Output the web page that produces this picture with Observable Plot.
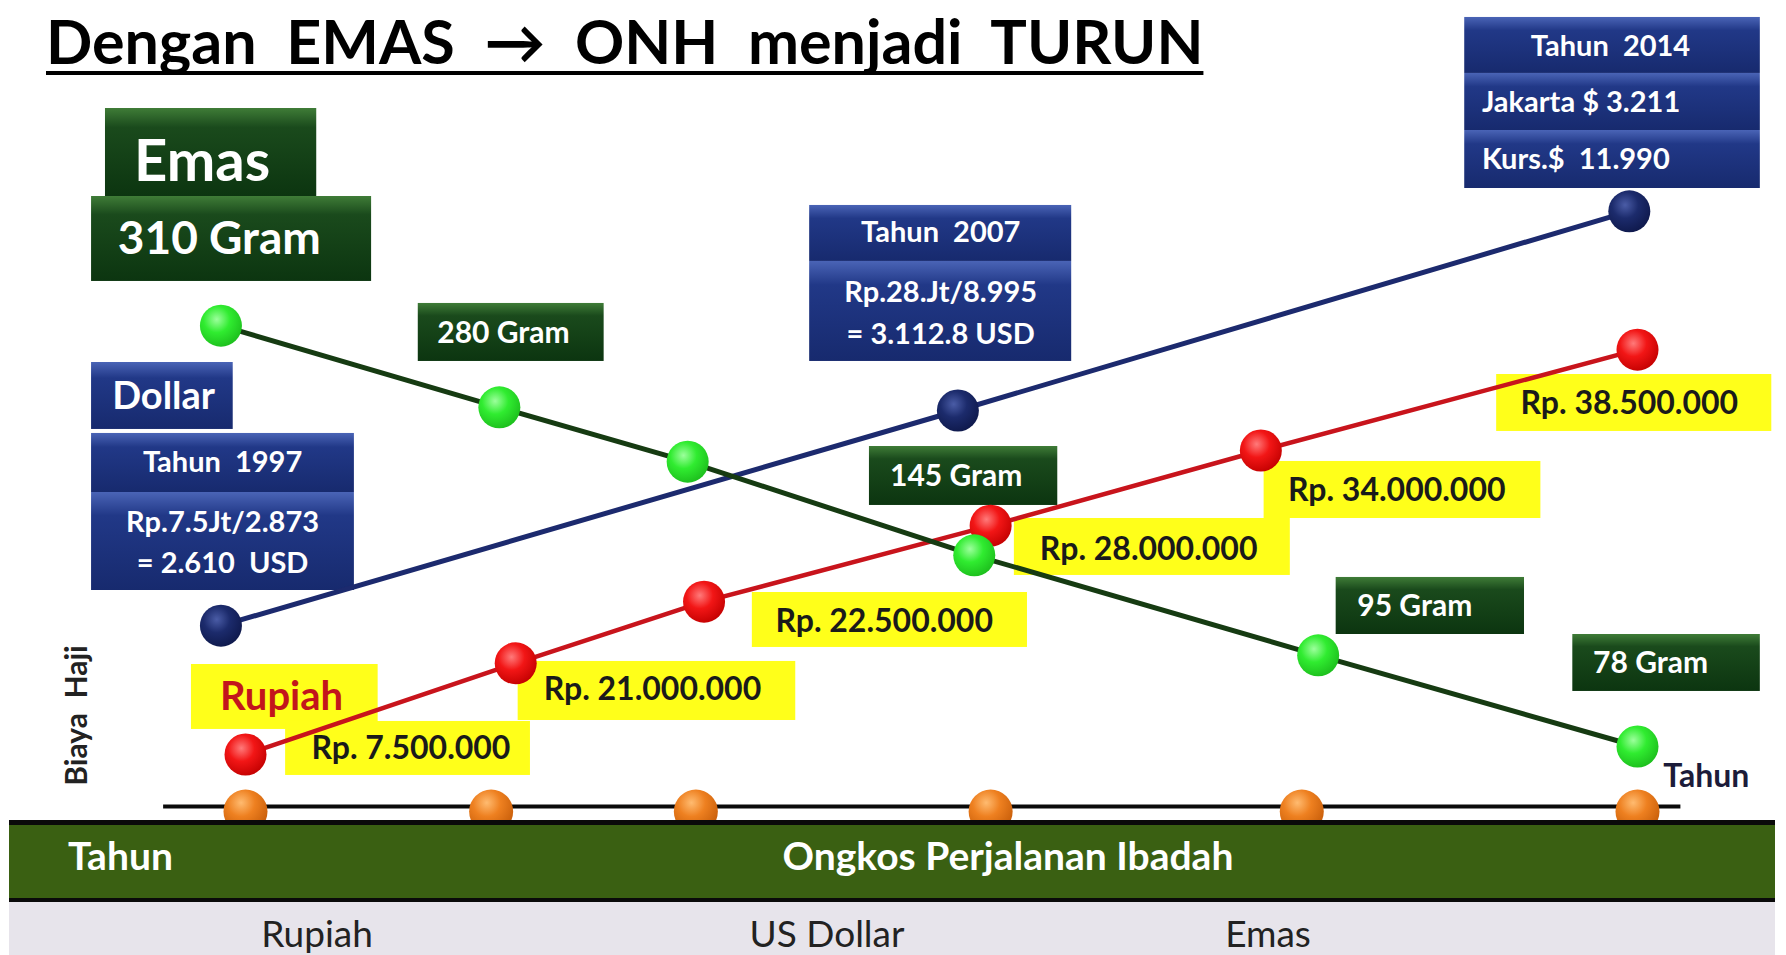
<!DOCTYPE html>
<html><head><meta charset="utf-8">
<script src="https://cdn.jsdelivr.net/npm/d3@7"></script>
<script src="https://cdn.jsdelivr.net/npm/@observablehq/plot@0.6"></script>
<style>
html,body{margin:0;padding:0;background:#fff;}
#wrap{position:relative;width:1786px;height:955px;overflow:hidden;font-family:Lato,"Open Sans",sans-serif;}
#judul{position:absolute;left:46px;top:7px;font-weight:700;font-size:61px;white-space:pre;text-decoration:underline;text-decoration-thickness:4px;text-underline-offset:7px;text-decoration-skip-ink:none;color:#000;line-height:1.1;}
#pitaHijau{position:absolute;left:9px;top:820px;width:1766px;height:73px;background:#3a6012;border-top:5px solid #0a0a0a;border-bottom:4px solid #0a0a0a;}
#pitaAbu{position:absolute;left:9px;top:902px;width:1766px;height:53px;background:#e7e4eb;}
.lbl{position:absolute;line-height:1;white-space:pre;font-family:Lato,"Open Sans",sans-serif;}
.hijau{top:836px;color:#fff;font-weight:700;font-size:39px;}
.abu{top:914px;color:#222;font-weight:400;font-size:37px;transform:translateX(-50%);}
</style></head>
<body>
<div id="wrap">
  <div id="chart"></div>
  <div id="judul"></div>
  <div id="pitaHijau"></div>
  <div id="pitaAbu"></div>
</div>
<script>
// ===================== DATA =====================
const judul = "Dengan  EMAS  \u2192  ONH  menjadi  TURUN";

// posisi titik tahun pada sumbu "Tahun"
const tahunTitik = [1997.0, 2000.0, 2002.5, 2006.1, 2009.9, 2014.0];

// Rupiah
const tahunRupiah = [1997.0, 2000.3, 2002.6, 2006.1, 2009.4, 2014.0];
const tinggiRupiah = [6.5, 17.9, 25.6, 35.1, 44.5, 57.1];
const labelRupiah = ["Rp. 7.500.000", "Rp. 21.000.000", "Rp. 22.500.000", "Rp. 28.000.000", "Rp. 34.000.000", "Rp. 38.500.000"];

// Dollar
const tahunDollar = [1996.7, 2005.7, 2013.9];
const tinggiDollar = [22.6, 49.5, 74.4];
const info1997 = ["Tahun  1997", "Rp.7.5Jt/2.873", "= 2.610  USD"];
const info2007 = ["Tahun  2007", "Rp.28.Jt/8.995", "= 3.112.8 USD"];
const info2014 = ["Tahun  2014", "Jakarta $ 3.211", "Kurs.$  11.990"];

// Emas
const tahunEmas = [1996.7, 2000.1, 2002.4, 2005.9, 2010.1, 2014.0];
const tinggiEmas = [60.1, 49.9, 43.1, 31.4, 18.9, 7.5];
const labelEmas = ["310 Gram", "280 Gram", "", "145 Gram", "95 Gram", "78 Gram"];

const namaSeri = ["Rupiah", "Dollar", "Emas"];
const sumbuY = "Biaya  Haji";
const sumbuX = "Tahun";
const pitaJudul = ["Tahun", "Ongkos Perjalanan Ibadah"];
const kolomTabel = ["Rupiah", "US Dollar", "Emas"];

// ===================== TABLES =====================
const rupiah = tahunRupiah.map((t, i) => ({tahun: t, tinggi: tinggiRupiah[i]}));
const dollar = tahunDollar.map((t, i) => ({tahun: t, tinggi: tinggiDollar[i]}));
const emas = tahunEmas.map((t, i) => ({tahun: t, tinggi: tinggiEmas[i]}));
const titik = tahunTitik.map(t => ({tahun: t}));

// ===================== LAYOUT (annotation boxes, in scale units) =====================
const GH = "url(#gHijau)", GB = "url(#gBiru)", KU = "#ffff1a";
const kotak = [
  {x1:1995.29,x2:1997.87,y1:76.25,y2:87.25,f:GH},
  {x1:1995.12,x2:1998.54,y1:65.63,y2:76.25,f:GH},
  {x1:1999.11,x2:2001.38,y1:55.63,y2:62.88,f:GH},
  {x1:2004.62,x2:2006.92,y1:37.63,y2:45.00,f:GH},
  {x1:2010.32,x2:2012.62,y1:21.50,y2:28.63,f:GH},
  {x1:2013.21,x2:2015.50,y1:14.38,y2:21.50,f:GH},
  {x1:1995.12,x2:1996.85,y1:47.13,y2:55.50,f:GB},
  {x1:1995.12,x2:1998.33,y1:39.25,y2:46.63,f:GB},
  {x1:1995.12,x2:1998.33,y1:27.00,y2:39.25,f:GB},
  {x1:2003.89,x2:2007.09,y1:68.13,y2:75.13,f:GB},
  {x1:2003.89,x2:2007.09,y1:55.63,y2:68.13,f:GB},
  {x1:2011.89,x2:2015.50,y1:91.63,y2:98.63,f:GB},
  {x1:2011.89,x2:2015.50,y1:84.50,y2:91.63,f:GB},
  {x1:2011.89,x2:2015.50,y1:77.25,y2:84.50,f:GB},
  {x1:1996.34,x2:1998.62,y1:9.63,y2:17.75,f:KU},
  {x1:1997.49,x2:2000.48,y1:3.88,y2:10.63,f:KU},
  {x1:2000.33,x2:2003.72,y1:10.75,y2:18.13,f:KU},
  {x1:2003.19,x2:2006.55,y1:19.88,y2:26.75,f:KU},
  {x1:2006.39,x2:2009.76,y1:28.88,y2:36.00,f:KU},
  {x1:2009.44,x2:2012.82,y1:36.00,y2:43.13,f:KU},
  {x1:2012.28,x2:2015.64,y1:46.88,y2:54.00,f:KU}
];
const posRupiah = [[1999.02,7.25],[2001.97,14.63],[2004.80,23.13],[2008.03,32.13],[2011.06,39.5],[2013.90,50.38]];
const posEmas = [[1996.68,70.88],[2000.15,59.13],null,[2005.68,41.25],[2011.28,25.0],[2014.16,17.88]];
const teksRupiah = labelRupiah.map((s, i) => ({x: posRupiah[i][0], y: posRupiah[i][1], s}));
const teksEmas = labelEmas.map((s, i) => posEmas[i] ? ({x: posEmas[i][0], y: posEmas[i][1], s}) : null).filter(d => d && d.s);
const teksBiru = [
  {x:1996.72,y:43.0,s:info1997[0]},{x:1996.72,y:35.5,s:info1997[1]},{x:1996.72,y:30.38,s:info1997[2]},
  {x:2005.49,y:71.75,s:info2007[0]},{x:2005.49,y:64.25,s:info2007[1]},{x:2005.49,y:59.0,s:info2007[2]}
];
const teksBiruKiri = [{x:2012.10,y:88.0,s:info2014[1]},{x:2012.10,y:80.88,s:info2014[2]}];

const F = "Lato, 'Open Sans', sans-serif";
const chart = Plot.plot({
  width: 1786, height: 820,
  marginLeft: 245, marginRight: 149, marginTop: 6, marginBottom: 14,
  x: {domain: [1997, 2014], axis: null},
  y: {domain: [0, 100], axis: null},
  style: {fontFamily: F, background: "white"},
  marks: [
    Plot.rect(kotak, {x1: "x1", x2: "x2", y1: "y1", y2: "y2", fill: d => d.f}),
    Plot.ruleY([0], {x1: 1996.0, x2: 2014.53, stroke: "#0a0a0a", strokeWidth: 4}),
    Plot.line(rupiah, {x: "tahun", y: "tinggi", stroke: "#c8141c", strokeWidth: 4.5}),
    Plot.line(dollar, {x: "tahun", y: "tinggi", stroke: "#1c2a6e", strokeWidth: 5}),
    Plot.line(emas, {x: "tahun", y: "tinggi", stroke: "#163b12", strokeWidth: 5}),
    Plot.dot(titik, {x: "tahun", y: -0.63, r: 22, fill: "url(#rOranye)"}),
    Plot.dot(rupiah, {x: "tahun", y: "tinggi", r: 21, fill: "url(#rMerah)"}),
    Plot.dot(dollar, {x: "tahun", y: "tinggi", r: 21, fill: "url(#rBiru)"}),
    Plot.dot(emas, {x: "tahun", y: "tinggi", r: 21, fill: "url(#rHijau)"}),
    // green box texts
    Plot.text([{x:1996.47,y:80.5,s:namaSeri[2]}], {x:"x", y:"y", text:"s", fill:"white", fontSize:58, fontWeight:700, fontFamily:F}),
    Plot.text(teksEmas.slice(0,1), {x:"x", y:"y", text:"s", fill:"white", fontSize:46, fontWeight:700, fontFamily:F}),
    Plot.text(teksEmas.slice(1), {x:"x", y:"y", text:"s", fill:"white", fontSize:30, fontWeight:700, fontFamily:F}),
    // blue box texts
    Plot.text([{x:1996.0,y:51.25,s:namaSeri[1]}], {x:"x", y:"y", text:"s", fill:"white", fontSize:38, fontWeight:700, fontFamily:F}),
    Plot.text(teksBiru, {x:"x", y:"y", text:"s", fill:"white", fontSize:29, fontWeight:700, fontFamily:F}),
    Plot.text([{x:2013.67,y:95.0,s:info2014[0]}], {x:"x", y:"y", text:"s", fill:"white", fontSize:29, fontWeight:700, fontFamily:F}),
    Plot.text(teksBiruKiri, {x:"x", y:"y", text:"s", textAnchor:"start", fill:"white", fontSize:29, fontWeight:700, fontFamily:F}),
    // yellow texts
    Plot.text([{x:1997.44,y:13.63,s:namaSeri[0]}], {x:"x", y:"y", text:"s", fill:"#c2161c", fontSize:40, fontWeight:700, fontFamily:F}),
    Plot.text(teksRupiah, {x:"x", y:"y", text:"s", fill:"#1a1a1a", fontSize:32, fontWeight:700, fontFamily:F}),
    // axis labels
    Plot.text([sumbuY], {x: 1994.95, y: 11.38, text: d => d, rotate: -90, fill: "#222", fontSize: 30, fontWeight: 700, fontFamily: F}),
    Plot.text([sumbuX], {x: 2014.84, y: 3.75, text: d => d, fill: "#1c1c3a", fontSize: 32, fontWeight: 700, fontFamily: F})
  ]
});

const defs = `<defs>
<linearGradient id="gHijau" x1="0" y1="0" x2="0" y2="1">
 <stop offset="0" stop-color="#3f7c37"/><stop offset="0.22" stop-color="#1a4a1c"/><stop offset="1" stop-color="#0c3510"/></linearGradient>
<linearGradient id="gBiru" x1="0" y1="0" x2="0" y2="1">
 <stop offset="0" stop-color="#4a64b6"/><stop offset="0.24" stop-color="#213887"/><stop offset="1" stop-color="#172a6e"/></linearGradient>
<radialGradient id="rMerah" cx="0.4" cy="0.35" r="0.7"><stop offset="0" stop-color="#ff7a7a"/><stop offset="0.45" stop-color="#f21616"/><stop offset="1" stop-color="#c20000"/></radialGradient>
<radialGradient id="rHijau" cx="0.4" cy="0.35" r="0.7"><stop offset="0" stop-color="#9cff9c"/><stop offset="0.45" stop-color="#30ec30"/><stop offset="1" stop-color="#1cbc1c"/></radialGradient>
<radialGradient id="rBiru" cx="0.4" cy="0.35" r="0.7"><stop offset="0" stop-color="#4a5ca6"/><stop offset="0.45" stop-color="#1c2b6c"/><stop offset="1" stop-color="#0e184a"/></radialGradient>
<radialGradient id="rOranye" cx="0.4" cy="0.3" r="0.7"><stop offset="0" stop-color="#ffbb70"/><stop offset="0.45" stop-color="#ee8020"/><stop offset="1" stop-color="#c85e0a"/></radialGradient>
</defs>`;
chart.insertAdjacentHTML("afterbegin", defs);
document.getElementById("chart").appendChild(chart);
document.getElementById("judul").textContent = judul;

const wrap = document.getElementById("wrap");
function lbl(text, cls, left) {
  const d = document.createElement("div");
  d.className = "lbl " + cls; d.textContent = text; d.style.left = left + "px";
  wrap.appendChild(d); return d;
}
lbl(pitaJudul[0], "hijau", 68);
const o = lbl(pitaJudul[1], "hijau", 1008); o.style.transform = "translateX(-50%)";
[317, 827, 1268].forEach((c, i) => lbl(kolomTabel[i], "abu", c));
</script>
</body></html>
